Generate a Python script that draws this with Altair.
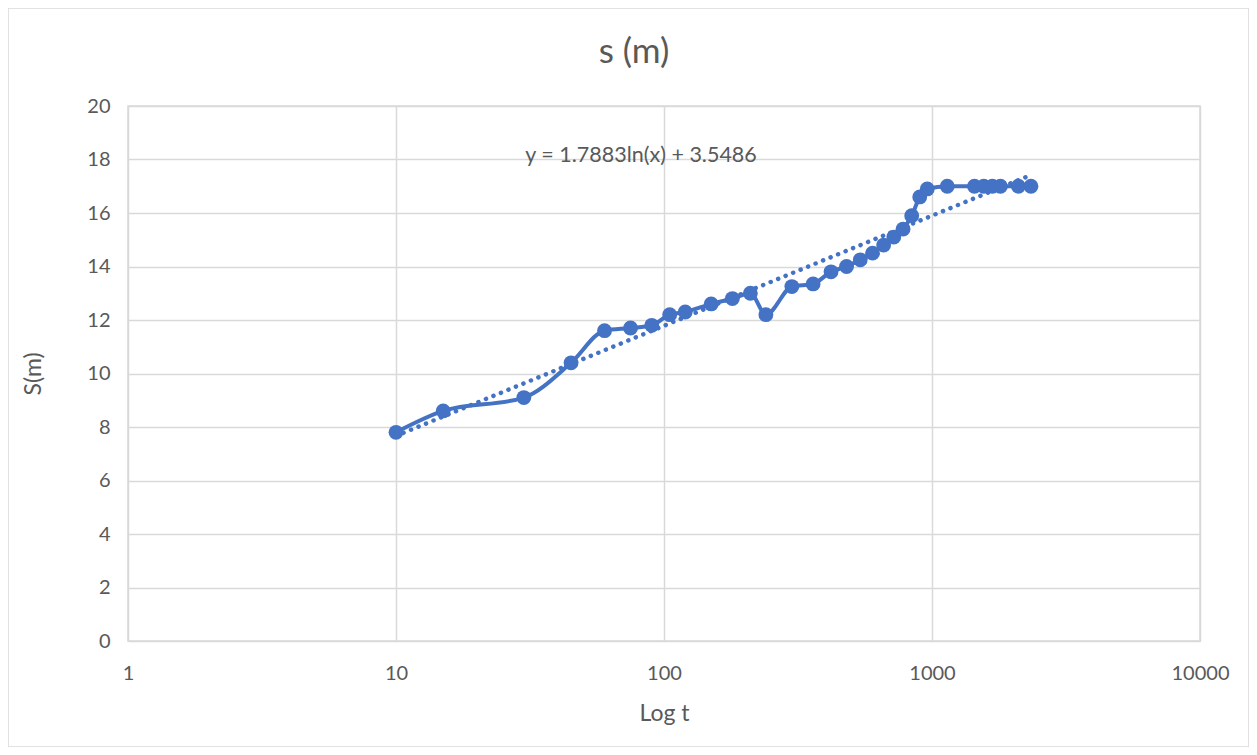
import altair as alt
import pandas as pd

t_values = [10, 15, 30, 45, 60, 75, 90, 105, 120, 150, 180, 210, 240, 300, 360,
            420, 480, 540, 600, 660, 720, 780, 840, 900, 960, 1140, 1440, 1560,
            1680, 1800, 2100, 2340]
s_values = [7.8, 8.6, 9.1, 10.4, 11.6, 11.7, 11.8, 12.2, 12.3, 12.6, 12.8, 13.0,
            12.2, 13.25, 13.35, 13.8, 14.0, 14.25, 14.5, 14.8, 15.1, 15.4, 15.9,
            16.6, 16.9, 17.0, 17.0, 17.0, 17.0, 17.0, 17.0, 17.0]
x_ticks = [1, 10, 100, 1000, 10000]
y_ticks = [0, 2, 4, 6, 8, 10, 12, 14, 16, 18, 20]
equation = "y = 1.7883ln(x) + 3.5486"
chart_title = "s (m)"

df = pd.DataFrame({"t": t_values, "s": s_values})

BLUE = "#4472C4"
GRAY = "#595959"
FONT = "Lato"
W, H = 1072, 535

x_enc = alt.X("t:Q", scale=alt.Scale(type="log", domain=[1, 10000]),
              axis=alt.Axis(values=x_ticks, format="d", title="Log t", labelFlush=False,
                            titleX=W / 2, titleY=72, titleBaseline="middle",
                            titleAlign="center"))
y_enc = alt.Y("s:Q", scale=alt.Scale(domain=[0, 20], nice=False),
              axis=alt.Axis(values=y_ticks, title="S(m)", titleX=-95, titleY=H / 2,
                            labelFlush=False,
                            titleBaseline="middle", titleAlign="center", titleAngle=-90))

base = alt.Chart(df)

line = base.mark_line(interpolate="monotone", color=BLUE, strokeWidth=4).encode(x=x_enc, y=y_enc)
pts = base.mark_circle(color=BLUE, size=220, opacity=1).encode(x="t:Q", y="s:Q")
trend = base.transform_regression("t", "s", method="log").mark_line(
    color=BLUE, strokeWidth=4.5, strokeDash=[0.1, 8], strokeCap="round"
).encode(x="t:Q", y="s:Q")

one = pd.DataFrame({"k": [0]})
eq_text = alt.Chart(one).mark_text(text=equation, fontSize=21.5, color=GRAY, font=FONT).encode(
    x=alt.value(513), y=alt.value(50))
title_text = alt.Chart(one).mark_text(text=chart_title, fontSize=35, color=GRAY, font=FONT).encode(
    x=alt.value(506), y=alt.value(-54))
border = alt.Chart(one).mark_rect(fill="transparent", stroke="#d9d9d9", strokeWidth=1.5, clip=False).encode(
    x=alt.value(-120), x2=alt.value(1121), y=alt.value(-98), y2=alt.value(641))

chart = alt.layer(border, trend, line, pts, eq_text, title_text).properties(
    width=W, height=H,
    autosize=alt.AutoSizeParams(type="none"),
    padding={"left": 120, "top": 98, "right": 49, "bottom": 106},
).configure_view(stroke="#d9d9d9", strokeWidth=1.5).configure_axis(
    grid=True, gridColor="#d9d9d9", gridWidth=1.5, domain=False, ticks=False,
    labelFont=FONT, labelFontSize=20, labelColor=GRAY,
    titleFont=FONT, titleFontSize=23, titleColor=GRAY, titleFontWeight="normal",
).configure_axisX(labelPadding=22).configure_axisY(labelPadding=18)

chart.save("out.html", embed_options={"renderer": "svg", "actions": False})
